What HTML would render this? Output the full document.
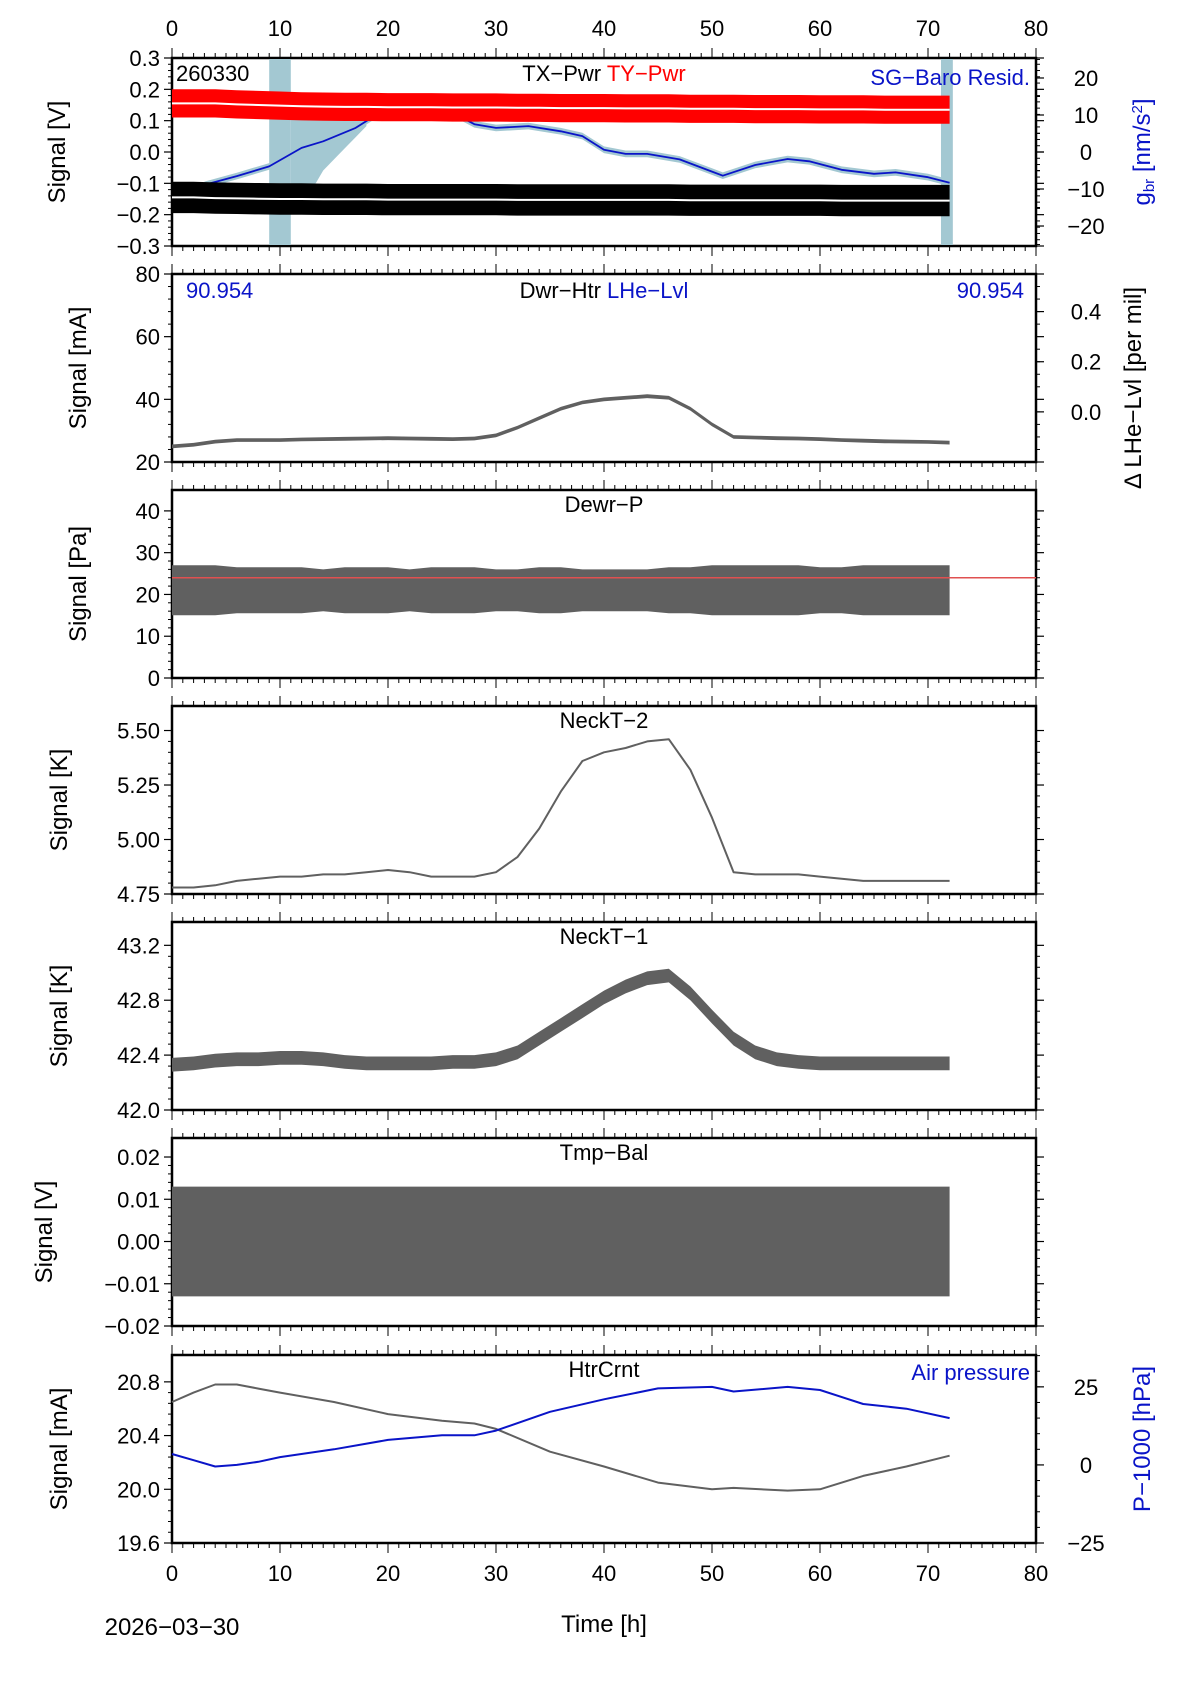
<!DOCTYPE html>
<html><head><meta charset="utf-8"><style>
body{margin:0;background:#fff}
svg{display:block}
text{font-family:"Liberation Sans Narrow","Liberation Sans",sans-serif}
.t{font-size:22px}
.ti{font-family:"Liberation Sans",sans-serif;font-size:24px}
</style></head><body>
<svg id="c" width="1190" height="1684" viewBox="0 0 1190 1684" xmlns="http://www.w3.org/2000/svg"></svg>
<script>
// ---- data (hours) ----
const hours=[0,2,4,6,8,10,12,14,16,18,20,22,24,26,28,30,32,34,36,38,40,42,44,46,48,50,52,54,56,58,60,62,64,66,68,70,72];
const tyMid=[0.155,0.155,0.155,0.152,0.150,0.148,0.146,0.145,0.144,0.144,0.143,0.143,0.143,0.142,0.142,0.142,0.141,0.141,0.140,0.140,0.140,0.139,0.139,0.139,0.138,0.138,0.138,0.137,0.137,0.137,0.136,0.136,0.136,0.135,0.135,0.135,0.135];
const txMid=[-0.145,-0.145,-0.147,-0.148,-0.149,-0.150,-0.150,-0.151,-0.151,-0.151,-0.152,-0.152,-0.152,-0.152,-0.152,-0.152,-0.153,-0.153,-0.153,-0.153,-0.153,-0.153,-0.153,-0.153,-0.154,-0.154,-0.154,-0.154,-0.154,-0.154,-0.154,-0.155,-0.155,-0.155,-0.155,-0.155,-0.155];
const baroHours=[3,6,9,12,14,17,19,21,24,26,28,30,33,36,38,40,42,44,47,50,51,54,57,59,62,65,67,70,72];
const baroVals=[-8.9,-6.5,-3.9,1.1,2.9,6.5,10.2,12.5,12.5,10.6,7.5,6.5,7,5.6,4.3,0.6,-0.5,-0.5,-2,-5.3,-6.4,-3.5,-1.9,-2.5,-4.8,-5.9,-5.5,-6.8,-8.3];
const dwrHtr=[25,25.5,26.5,27,27,27,27.2,27.3,27.4,27.5,27.6,27.5,27.4,27.3,27.5,28.5,31,34,37,39,40,40.5,41,40.5,37,32,28,27.8,27.6,27.5,27.3,27.0,26.8,26.6,26.5,26.4,26.2];
const dewrP=[21,21,21,21,21,21,21,21,21,21,21,21,21,21,21,21,21,21,21,21,21,21,21,21,21,21,21,21,21,21,21,21,21,21,21,21,21];
const dewrSpread=[6,6,6,5.5,5.5,5.5,5.5,5,5.5,5.5,5.5,5,5.5,5.5,5.5,5,5,5.5,5.5,5,5,5,5,5.5,5.5,6,6,6,6,6,5.5,5.5,6,6,6,6,6];
const neck2=[4.78,4.78,4.79,4.81,4.82,4.83,4.83,4.84,4.84,4.85,4.86,4.85,4.83,4.83,4.83,4.85,4.92,5.05,5.22,5.36,5.40,5.42,5.45,5.46,5.32,5.10,4.85,4.84,4.84,4.84,4.83,4.82,4.81,4.81,4.81,4.81,4.81];
const neck1=[42.33,42.34,42.36,42.37,42.37,42.38,42.38,42.37,42.35,42.34,42.34,42.34,42.34,42.35,42.35,42.37,42.42,42.52,42.62,42.72,42.82,42.90,42.96,42.98,42.85,42.68,42.52,42.42,42.37,42.35,42.34,42.34,42.34,42.34,42.34,42.34,42.34];
const tmpBal=[0,0,0,0,0,0,0,0,0,0,0,0,0,0,0,0,0,0,0,0,0,0,0,0,0,0,0,0,0,0,0,0,0,0,0,0,0];
const htrHours=[0,2,4,6,8,10,15,20,25,28,30,35,40,45,50,52,57,60,64,68,72];
const htrCrnt=[20.65,20.72,20.78,20.78,20.75,20.72,20.65,20.56,20.51,20.49,20.45,20.28,20.17,20.05,20.0,20.01,19.99,20.0,20.1,20.17,20.25];
const airP=[3.5,1.5,-0.5,0,1,2.5,5,8,9.5,9.5,11,17,21,24.5,25,23.5,25,24,19.5,18,15];
const xTicks=[0,10,20,30,40,50,60,70,80];

const svg=document.getElementById('c');
const NS='http://www.w3.org/2000/svg';
function el(tag,attrs,parent){const e=document.createElementNS(NS,tag);for(const k in attrs)e.setAttribute(k,attrs[k]);(parent||svg).appendChild(e);return e;}
const X0=172,X1=1036;
const sx=t=>X0+(X1-X0)*t/80;
const tops=[58,274,490,706,922,1138,1355];
const H=188;
function sy(i,lo,hi){return v=>tops[i]+H-(v-lo)/(hi-lo)*H;}

function line(i,xs,ys,f,color,w,name){
  const p=xs.map((t,k)=>sx(t).toFixed(1)+','+f(ys[k]).toFixed(1)).join(' ');
  const e=el('polyline',{points:p,fill:'none',stroke:color,'stroke-width':w,'stroke-linejoin':'round'});
  
  
}
function band(xs,ys,sp,f,color,name){
  const up=xs.map((t,k)=>sx(t).toFixed(1)+','+f(ys[k]+(Array.isArray(sp)?sp[k]:sp)).toFixed(1));
  const dn=xs.map((t,k)=>sx(t).toFixed(1)+','+f(ys[k]-(Array.isArray(sp)?sp[k]:sp)).toFixed(1)).reverse();
  const e=el('polygon',{points:up.concat(dn).join(' '),fill:color});
  
  
}
function txt(x,y,s,cls,anchor,color,name,rot){
  const a={x:x,y:y,class:cls,'text-anchor':anchor||'middle',fill:color||'#000'};
  if(rot)a.transform='rotate(-90 '+x+' '+y+')';
  const e=el('text',a);e.textContent=s;
  
  
  return e;
}
function frame(i,lo,hi,yt,ylab,title,titleX,rightTicks){
  const top=tops[i],bot=top+H,f=sy(i,lo,hi);
  for(let t=0;t<=80;t++){
    const L=(t%10==0)?10:5;
    el('line',{x1:sx(t),x2:sx(t),y1:top,y2:top-L,stroke:'#000','stroke-width':1});
    el('line',{x1:sx(t),x2:sx(t),y1:bot,y2:bot+L,stroke:'#000','stroke-width':1});
  }
  yt.forEach((v,k)=>{
    el('line',{x1:X0,x2:X0-8,y1:f(v),y2:f(v),stroke:'#000','stroke-width':1.2});
    if(!rightTicks) el('line',{x1:X1,x2:X1+8,y1:f(v),y2:f(v),stroke:'#000','stroke-width':1.2});
    txt(X0-12,f(v)+8,ylab[k],'t','end','#000','y-tick-label');
    if(k<yt.length-1){const st=(yt[k+1]-v)/5;for(let m=1;m<5;m++){const yy=f(v+st*m);el('line',{x1:X0,x2:X0-4,y1:yy,y2:yy,stroke:'#000'});if(!rightTicks)el('line',{x1:X1,x2:X1+4,y1:yy,y2:yy,stroke:'#000'});}}
  });
  const r=el('rect',{x:X0,y:top,width:X1-X0,height:H,fill:'none',stroke:'#000','stroke-width':2.5});
  
  
  txt(titleX,(top+bot)/2,title[0],'ti','middle','#000','y-axis-title',true);
  return f;
}
function rightAxis(i,lo,hi,vals,labs){
  const f=sy(i,lo,hi);
  vals.forEach((v,k)=>{
    el('line',{x1:X1,x2:X1+8,y1:f(v),y2:f(v),stroke:'#000','stroke-width':1.2});
    txt(X1+50,f(v)+8,labs[k],'t','middle','#000','right-tick-label');
  });
  return f;
}

// Panel 1
{
  const f=frame(0,-0.3,0.3,[-0.3,-0.2,-0.1,0,0.1,0.2,0.3],['−0.3','−0.2','−0.1','0.0','0.1','0.2','0.3'],['Signal [V]'],65);
  const fr=sy(0,-25.4,25.4);
  [[9,11],[71.2,72.3]].forEach(g=>{const e=el('rect',{x:sx(g[0]),y:tops[0]+1,width:sx(g[1])-sx(g[0]),height:H-2,fill:'#a3c8d2'});});
  band([11,12,13,14,15,16,17,18],[-2,0,2,3,4,6,8,10],[14,10,12,8,6,5,4,3],fr,'#a3c8d2','baro-noise');
  band(baroHours,baroVals,0.9,fr,'#a3c8d2','baro-raw');
  line(0,baroHours,baroVals,fr,'#0a14c8',1.8,'sg-baro-resid-line');
  band(hours,tyMid,0.045,f,'#ff0000','ty-pwr-band');
  line(0,hours,tyMid,f,'#ffffff',2,'ty-pwr-mean');
  band(hours,txMid,0.05,f,'#000000','tx-pwr-band');
  line(0,hours,txMid,f,'#ffffff',2,'tx-pwr-mean');
  rightAxis(0,-25.4,25.4,[20,10,0,-10,-20],['20','10','0','−10','−20']);
  for(let v=-25;v<=25;v+=5){el('line',{x1:X1,x2:X1+4,y1:fr(v),y2:fr(v),stroke:'#000'});}
  txt(1150,(tops[0]+tops[0]+H)/2,'g','ti','middle','#0a14c8','right-axis-title',true).innerHTML='g<tspan font-size="15" dy="4">br</tspan><tspan dy="-4"> [nm/s</tspan><tspan font-size="15" dy="-8">2</tspan><tspan dy="8">]</tspan>';
  txt(176,81,'260330','t','start','#000','station-id');
  const t1=txt(604,81,'','t','middle','#000','panel-title');t1.innerHTML='TX−Pwr <tspan fill="#ff0000">TY−Pwr</tspan>';
  txt(1030,85,'SG−Baro Resid.','t','end','#0a14c8','legend-sg-baro');
  xTicks.forEach(t=>txt(sx(t),36,String(t),'t','middle','#000','top-x-tick-label'));
}
// Panel 2
{
  const f=frame(1,20,80,[20,40,60,80],['20','40','60','80'],['Signal [mA]'],86);
  band(hours,dwrHtr,0.6,f,'#606060','dwr-htr-line');
  rightAxis(1,-0.2,0.55,[0.4,0.2,0.0],['0.4','0.2','0.0']);
  txt(1141,tops[1]+H/2+20,'Δ LHe−Lvl [per mil]','ti','middle','#000','right-axis-title',true);
  txt(186,298,'90.954','t','start','#0a14c8','lhe-start-value');
  txt(1024,298,'90.954','t','end','#0a14c8','lhe-end-value');
  const t=txt(604,298,'','t','middle','#000','panel-title');t.innerHTML='Dwr−Htr  <tspan fill="#0a14c8">LHe−Lvl</tspan>';
}
// Panel 3
{
  const f=frame(2,0,45,[0,10,20,30,40],['0','10','20','30','40'],['Signal [Pa]'],86);
  band(hours,dewrP,dewrSpread,f,'#606060','dewr-p-band');
  const e=el('line',{x1:X0,x2:X1,y1:f(24),y2:f(24),stroke:'#e05050','stroke-width':1.5});
  txt(604,tops[2]+22,'Dewr−P','t','middle','#000','panel-title');
}
// Panel 4
{
  const f=frame(3,4.75,5.6125,[4.75,5.0,5.25,5.5],['4.75','5.00','5.25','5.50'],['Signal [K]'],67);
  line(3,hours,neck2,f,'#606060',2,'neckt2-line');
  txt(604,tops[3]+22,'NeckT−2','t','middle','#000','panel-title');
}
// Panel 5
{
  const f=frame(4,42.0,43.37,[42.0,42.4,42.8,43.2],['42.0','42.4','42.8','43.2'],['Signal [K]'],67);
  band(hours,neck1,0.05,f,'#606060','neckt1-band');
  txt(604,tops[4]+22,'NeckT−1','t','middle','#000','panel-title');
}
// Panel 6
{
  const f=frame(5,-0.02,0.0245,[-0.02,-0.01,0,0.01,0.02],['−0.02','−0.01','0.00','0.01','0.02'],['Signal [V]'],52);
  band(hours,tmpBal,0.013,f,'#606060','tmp-bal-band');
  txt(604,tops[5]+22,'Tmp−Bal','t','middle','#000','panel-title');
}
// Panel 7
{
  const f=frame(6,19.6,21.0,[19.6,20.0,20.4,20.8],['19.6','20.0','20.4','20.8'],['Signal [mA]'],67,true);
  const fr=sy(6,-25,35.2);
  line(6,htrHours,htrCrnt,f,'#606060',2,'htr-crnt-line');
  line(6,htrHours,airP,fr,'#0a14c8',2,'air-pressure-line');
  rightAxis(6,-25,35.2,[25,0,-25],['25','0','−25']);
  for(let v=-25;v<=35;v+=5){el('line',{x1:X1,x2:X1+4,y1:fr(v),y2:fr(v),stroke:'#000'});}
  txt(1150,tops[6]+H/2-10,'P−1000 [hPa]','ti','middle','#0a14c8','right-axis-title',true);
  txt(604,tops[6]+22,'HtrCrnt','t','middle','#000','panel-title');
  txt(1030,tops[6]+25,'Air pressure','t','end','#0a14c8','legend-air-pressure');
  xTicks.forEach(t=>txt(sx(t),1581,String(t),'t','middle','#000','bottom-x-tick-label'));
  txt(604,1632,'Time [h]','ti','middle','#000','x-axis-title');
  txt(172,1635,'2026−03−30','ti','middle','#000','date-label');
}
</script>
</body></html>
